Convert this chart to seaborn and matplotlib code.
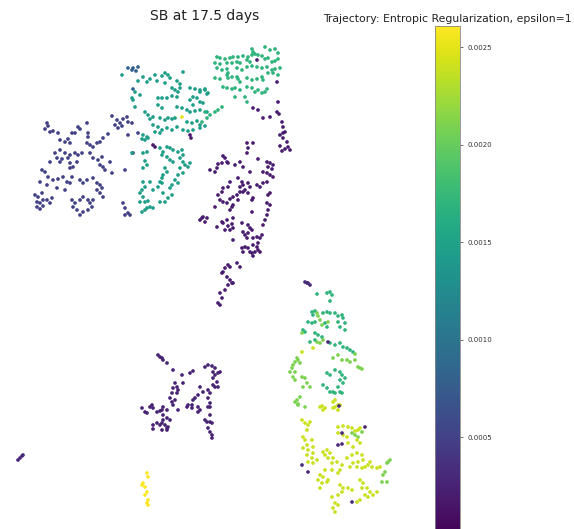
import numpy as np
import pandas as pd
import matplotlib
matplotlib.use("Agg")
import matplotlib.pyplot as plt
import seaborn as sns
from matplotlib.cm import ScalarMappable
from matplotlib.colors import Normalize
from matplotlib.ticker import FormatStrFormatter

# ---------------- data (embedding coordinates) ----------------
TITLE = "SB at 17.5 days"
CBAR_TITLE = "Trajectory: Entropic Regularization, epsilon=1"
CBAR_TICKS = [0.0, 0.0005, 0.0010, 0.0015, 0.0020, 0.0025]
VMIN, VMAX = 0.0, 0.00261

left_blue = [(47,123),(48,126),(45,129),(50,132),(53,131),(58,133),(72,133),(75,133),(78,127),(80,129),(87,123),(88,133),(88,137),(60,140),(65,142),(68,139),(70,143),(87,143),(90,145),(93,147),(97,143),(100,142),(103,138),(108,134),(112,116),(117,120),(120,123),(123,119),(127,117),(128,122),(132,123),(115,125),(118,128),(122,126),(128,135),(138,133),(55,153),(60,150),(65,153),(70,155),(75,153),(78,155),(50,162),(57,158),(60,162),(62,159),(68,158),(70,163),(77,162),(82,153),(90,153),(93,158),(98,160),(102,157),(100,165),(103,167),(105,170),(110,162),(112,173),(125,170),(133,153),(42,170),(45,172),(48,177),(53,180),(58,179),(63,177),(67,182),(72,177),(70,168),(73,167),(40,182),(47,185),(57,188),(65,190),(70,183),(80,180),(83,183),(87,180),(93,178),(97,183),(100,185),(102,188),(97,190),(100,193),(103,197),(35,195),(38,197),(42,193),(43,200),(40,203),(37,202),(47,200),(50,203),(52,198),(37,207),(40,209),(43,206),(72,200),(75,203),(73,207),(80,200),(83,197),(88,200),(90,203),(93,200),(77,210),(80,215),(83,212),(88,210),(92,207),(123,203),(125,208),(128,213),(125,215),(130,215)]
left_blue_value = 0.0005

teal_top_blue = [(128,68),(132,70),(133,68),(136,71),(138,67),(133,89)]
teal_top_blue_value = 0.0008

teal = [(122,75),(143,77),(150,79),(155,75),(162,76),(165,73),(168,75),(170,78),(138,81),(147,82),(157,81),(165,83),(177,81),(180,84),(183,72),(135,92),(140,95),(132,98),(133,100),(172,88),(175,90),(180,88),(178,92),(190,88),(195,89),(200,90),(205,89),(207,94),(158,98),(162,98),(167,98),(172,96),(177,97),(190,100),(193,97),(197,98),(200,102),(203,103),(193,105),(135,107),(158,105),(162,108),(177,107),(182,108),(187,110),(190,112),(195,111),(200,110),(207,112),(145,112),(148,115),(153,117),(150,119),(160,118),(165,120),(168,118),(172,119),(175,118),(187,122),(192,123),(197,121),(200,125),(205,126),(200,128),(193,130),(188,131),(183,130),(153,125),(158,127),(162,130),(155,132),(160,133),(167,128),(172,130),(177,127),(143,135),(147,137),(145,140),(148,138),(142,139),(160,148),(163,152),(167,147),(170,148),(173,150),(178,152),(182,150),(183,155),(143,153),(147,152),(162,155),(167,157),(170,160),(173,162),(180,158),(183,162),(185,165),(188,167),(190,163),(145,161),(147,165),(143,168),(165,168),(167,172),(163,175),(162,178),(160,182),(162,183),(180,168),(183,173),(178,175),(175,180),(172,185),(170,188),(178,183),(143,182),(145,187),(142,190),(150,182),(153,190),(158,187),(140,193),(143,197),(140,202),(145,202),(148,201),(163,193),(168,198),(172,195),(165,202),(160,202),(147,208),(150,207),(153,208),(145,210),(142,212),(132,153),(205,90),(208,93),(200,92)]
teal_value = 0.00145

green_teal_top = [(252,49),(253,52),(265,47),(270,50),(275,49),(278,53),(217,57),(220,58),(225,59),(230,58),(233,57),(238,57),(243,56),(248,57),(252,55),(255,54),(258,55),(262,56),(215,63),(220,64),(227,63),(232,63),(237,62),(240,63),(247,60),(250,62),(265,59),(268,58),(272,62),(275,61),(278,59),(217,68),(222,70),(227,69),(228,73),(237,68),(242,70),(247,67),(252,66),(257,67),(262,68),(267,67),(272,70),(275,69),(280,68),(268,73),(273,73),(278,75),(215,78),(220,79),(227,75),(228,78),(232,77),(237,77),(238,79),(240,82),(247,78),(252,80),(257,79),(262,77),(263,80),(223,87),(227,88),(232,89),(235,88),(240,90),(247,87),(252,88),(255,92),(258,90),(262,93),(265,92),(267,89),(222,107),(218,110),(215,112),(210,115),(207,118),(205,112),(202,122),(235,97),(245,97),(247,102)]
green_teal_top_value = 0.0017

purple = [(257,60),(277,82),(278,102),(253,108),(258,110),(263,118),(270,117),(277,112),(279,114),(282,122),(283,127),(280,135),(283,133),(285,132),(283,138),(287,142),(288,147),(290,150),(285,149),(282,151),(280,146),(247,143),(253,143),(248,148),(247,153),(258,159),(223,156),(225,158),(227,162),(222,163),(218,164),(217,168),(215,172),(210,170),(228,163),(235,165),(240,162),(243,167),(250,172),(267,162),(270,163),(273,165),(268,167),(272,169),(263,172),(267,173),(270,175),(273,177),(238,178),(242,182),(243,185),(240,187),(245,190),(248,183),(250,187),(257,185),(260,187),(263,183),(267,182),(230,182),(228,187),(223,188),(222,192),(218,195),(220,200),(223,202),(227,203),(230,199),(233,197),(237,195),(232,207),(230,210),(233,205),(238,200),(240,192),(243,192),(248,193),(252,200),(253,198),(268,195),(270,193),(267,203),(270,205),(268,210),(267,215),(265,220),(263,225),(252,212),(200,220),(203,217),(205,222),(202,218),(207,218),(215,207),(217,227),(222,222),(223,223),(227,220),(228,226),(232,224),(233,228),(230,230),(225,230),(233,218),(242,223),(248,225),(250,228),(252,230),(248,233),(245,235),(243,232),(247,238),(253,238),(257,237),(260,238),(262,235),(233,240),(242,248),(243,252),(245,247),(248,248),(250,252),(252,253),(253,256),(255,252),(257,247),(258,250),(260,252),(258,243),(253,245),(228,265),(230,267),(225,268),(223,272),(222,273),(227,277),(230,280),(232,283),(228,285),(233,283),(237,263),(240,267),(225,290),(220,293),(222,298),(218,303),(220,305),(190,135),(191,138),(153,145),(155,147)]
purple_value = 0.0002

bottom_purple = [(158,355),(160,357),(162,358),(163,360),(167,363),(173,370),(182,375),(190,373),(193,371),(205,367),(208,365),(212,366),(215,368),(213,372),(215,375),(213,378),(218,373),(220,372),(175,383),(177,387),(173,388),(178,390),(183,383),(172,393),(177,393),(200,387),(203,392),(208,390),(210,393),(213,385),(215,387),(218,387),(217,382),(170,398),(172,402),(175,400),(163,407),(162,410),(167,410),(173,405),(178,410),(198,395),(195,398),(193,400),(192,405),(188,405),(187,407),(192,408),(198,407),(200,410),(198,412),(208,398),(208,407),(210,403),(142,408),(145,412),(147,413),(150,407),(152,405),(153,408),(157,412),(160,411),(163,415),(167,418),(163,420),(162,423),(165,425),(167,428),(160,425),(157,423),(153,425),(153,429),(162,430),(167,430),(168,427),(170,420),(205,420),(207,422),(210,422),(212,423),(208,428),(210,432),(212,435),(212,438),(210,415),(210,407)]
bottom_purple_value = 0.00025

yellow_small = [(147,473),(148,477),(143,483),(145,487),(142,485),(147,492),(145,495),(148,500),(147,503),(148,505)]
yellow_small_value = 0.0026

isolated_dark = [(18,460),(20,458),(22,456),(23,455)]
isolated_dark_value = 0.0003

green_upper = [(317,294),(327,293),(330,292),(332,295),(330,301),(312,312),(315,311),(313,315),(323,313),(327,312),(330,313),(335,313),(338,316),(342,315),(343,318),(308,322),(312,323),(315,322),(325,323),(327,327),(338,322),(340,327),(345,323),(345,330),(303,330),(305,332),(315,333),(318,335),(322,337),(315,340),(310,342),(330,343),(335,345),(340,343),(343,347),(347,348),(350,350),(353,352),(327,373),(330,375),(335,370),(340,372),(342,375),(345,378),(340,380),(343,383),(338,387),(323,385),(327,388),(330,392),(333,392),(335,393),(340,392),(342,393)]
green_upper_value = 0.0017

green_mid = [(317,313),(318,316),(320,320),(322,325),(328,322),(302,333),(317,342),(323,340),(320,343),(355,354),(297,358),(298,360),(295,362),(300,363),(293,365),(292,368),(290,372),(295,372),(293,377),(295,380),(302,377),(305,378),(307,383),(310,387),(303,387),(333,358),(338,355),(342,360),(347,360),(350,362),(355,360),(358,367),(360,368),(362,369),(300,397),(297,400),(298,405),(305,407),(295,402),(298,404),(385,472),(383,475),(387,482),(382,482),(387,463),(388,462),(390,460),(362,432),(358,437),(352,433),(355,435)]
green_mid_value = 0.0021

yellow_green = [(302,352),(313,348),(335,400),(338,405),(333,408),(320,407),(325,408),(322,406),(323,410),(333,402),(335,407),(340,405),(338,410),(302,420),(305,423),(308,425),(310,422),(307,430),(338,427),(343,426),(348,427),(352,428),(355,431),(358,430),(360,428),(343,435),(338,433),(347,437),(357,440),(360,443),(348,443),(353,447),(303,437),(305,440),(307,445),(312,440),(313,447),(303,448),(308,450),(313,453),(307,455),(312,458),(317,460),(308,462),(313,463),(323,452),(327,450),(325,455),(330,453),(328,458),(333,458),(332,463),(337,462),(342,465),(340,470),(338,473),(347,458),(352,455),(357,453),(362,455),(363,460),(358,462),(353,463),(350,467),(357,467),(362,468),(365,467),(368,465),(370,462),(372,467),(377,468),(380,467),(320,475),(323,477),(318,480),(322,483),(327,482),(320,488),(328,480),(332,470),(325,470),(340,485),(343,488),(342,492),(338,495),(348,488),(352,490),(360,480),(363,483),(362,488),(367,488),(370,492),(365,495),(368,497),(373,495),(377,492),(360,500),(357,502),(335,503),(338,505),(333,508),(335,512),(332,497)]
yellow_green_value = 0.0024

teal_yellow_spots = [(182,117)]
teal_yellow_spots_value = 0.0025

green_dark_spots = [(305,282),(307,283),(310,285),(308,283),(328,342),(339,406),(365,427),(342,433),(338,445),(342,444),(302,465),(308,472),(352,502)]
green_dark_spots_value = 0.0003

groups = [
    (left_blue, left_blue_value),
    (teal_top_blue, teal_top_blue_value),
    (teal, teal_value),
    (green_teal_top, green_teal_top_value),
    (purple, purple_value),
    (bottom_purple, bottom_purple_value),
    (yellow_small, yellow_small_value),
    (isolated_dark, isolated_dark_value),
    (green_upper, green_upper_value),
    (green_mid, green_mid_value),
    (yellow_green, yellow_green_value),
    (teal_yellow_spots, teal_yellow_spots_value),
    (green_dark_spots, green_dark_spots_value),
]

rows = []
for pts, val in groups:
    for (px, py) in pts:
        rows.append({"x": px, "y": py, "value": val})
df = pd.DataFrame(rows)

# ---------------- plot ----------------
sns.set_style("white")
plt.rcParams['font.family'] = ['DejaVu Sans']

W, H = 574, 529
fig = plt.figure(figsize=(W / 100, H / 100), dpi=100)
ax = fig.add_axes([0, 0, 410 / W, 499 / H])
norm = Normalize(VMIN, VMAX)
sns.scatterplot(data=df, x="x", y="y", hue="value", palette="viridis",
                hue_norm=norm, s=7, linewidth=0, legend=False, ax=ax)
ax.set_xlim(0, 410)
ax.set_ylim(529, 30)
ax.axis("off")
ax.set_title(TITLE, fontsize=10, color="#222222", pad=7)

cax = fig.add_axes([435 / W, (529 - 535) / H, 25 / W, 509 / H])
sm = ScalarMappable(norm=norm, cmap="viridis")
cb = fig.colorbar(sm, cax=cax)
cb.set_ticks(CBAR_TICKS)
cb.ax.yaxis.set_major_formatter(FormatStrFormatter("%.4f"))
cax.tick_params(labelsize=5, length=2, width=0.5, colors="#333333")
cb.outline.set_linewidth(0.6)
cb.outline.set_edgecolor("#888888")
cax.set_title(CBAR_TITLE, fontsize=7.8, pad=3, color="#222222")

fig.savefig("out.png", dpi=100)
